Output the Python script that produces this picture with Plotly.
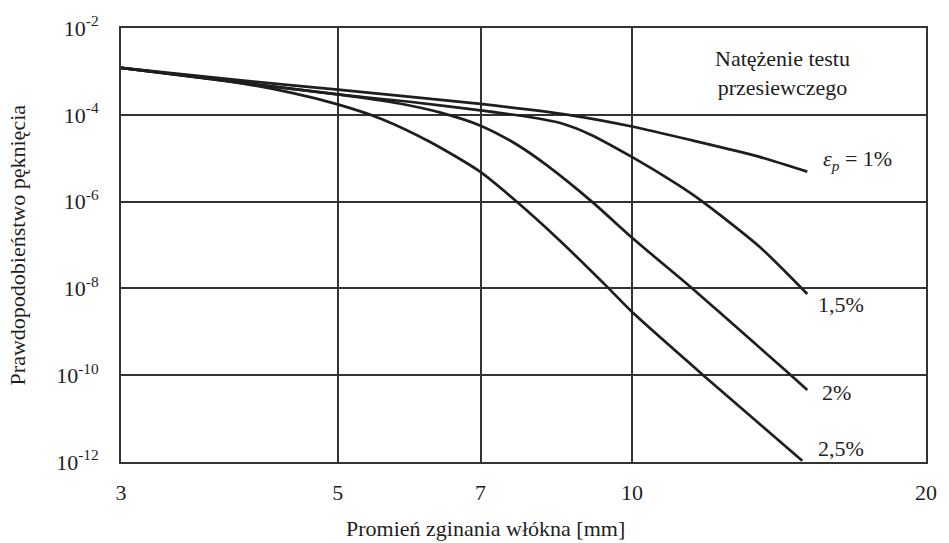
import plotly.graph_objects as go

# ---- data (x: bend radius [mm], values: log10 of failure probability) ----
x_1 = [3, 3.87, 5, 7, 8.61, 10.06, 11.53, 13.51, 15.12]
lg_1 = [-2.92, -3.18, -3.42, -3.75, -4.0, -4.28, -4.59, -4.97, -5.31]

x_15 = [3, 3.87, 5, 5.92, 7, 7.79, 8.48, 9.04, 10.0, 11.07, 11.81, 13.51, 15.12]
lg_15 = [-2.92, -3.22, -3.53, -3.70, -3.90, -4.04, -4.20, -4.44, -4.97, -5.57, -6.0, -7.04, -8.13]

x_2 = [3, 3.87, 5, 5.78, 6.37, 7, 7.63, 8.18, 9.10, 10.06, 11.53, 12.18, 14.51, 15.12]
lg_2 = [-2.92, -3.23, -3.53, -3.74, -3.95, -4.25, -4.69, -5.16, -6.0, -6.88, -8.0, -8.47, -9.98, -10.34]

x_25 = [3, 3.87, 4.50, 5, 5.55, 6.21, 6.98, 7.63, 8.43, 9.43, 10.0, 11.83, 14.94]
lg_25 = [-2.92, -3.23, -3.50, -3.76, -4.10, -4.62, -5.30, -6.01, -6.89, -7.96, -8.54, -10.0, -11.97]

x_ticks = [3, 5, 7, 10, 20]
y_exps = [-12, -10, -8, -6, -4, -2]

FONT = "Liberation Serif, Times New Roman, serif"
INK = "#1e1e1e"
GRID = "#333333"
FS = 22

W, H = 949, 543
L, R, T, B = 121, 12, 28, 81
PW, PH = W - L - R, H - T - B


def px(x):
    return (x - L) / PW


def py(y):
    return (H - B - y) / PH


fig = go.Figure()
for xs, lg in [(x_1, lg_1), (x_15, lg_15), (x_2, lg_2), (x_25, lg_25)]:
    fig.add_trace(go.Scatter(
        x=xs, y=[10 ** v for v in lg], mode="lines",
        line=dict(color=INK, width=2.7, shape="spline", smoothing=0.7),
        hoverinfo="skip", showlegend=False))

fig.update_layout(
    width=W, height=H, autosize=False,
    margin=dict(l=L, r=R, t=T, b=B, pad=0),
    paper_bgcolor="white", plot_bgcolor="white",
    font=dict(family=FONT, size=FS, color=INK),
    showlegend=False,
)
fig.update_xaxes(
    type="log", range=[0.47712, 1.30103],
    tickvals=x_ticks, ticktext=[str(v) for v in x_ticks],
    showgrid=True, gridcolor=GRID, gridwidth=1.6,
    showline=True, linecolor=GRID, linewidth=1.8, mirror=True,
    ticks="outside", ticklen=10, tickcolor="rgba(0,0,0,0)",
    tickfont=dict(family=FONT, size=FS, color=INK), zeroline=False,
)
fig.update_yaxes(
    type="log", range=[-12, -2],
    tickvals=[10.0 ** e for e in y_exps],
    ticktext=["10<sup>%d</sup>" % e for e in y_exps],
    showgrid=True, gridcolor=GRID, gridwidth=1.6,
    showline=True, linecolor=GRID, linewidth=1.8, mirror=True,
    ticks="outside", ticklen=16, tickcolor="rgba(0,0,0,0)",
    tickfont=dict(family=FONT, size=FS, color=INK), zeroline=False,
)

ann = [
    dict(text="Natężenie testu<br>przesiewczego", x=px(792), y=py(73),
         xanchor="center", yanchor="middle"),
    dict(text="<i>ε</i><sub><i>p</i></sub> = 1%", x=px(831), y=py(160),
         xanchor="left", yanchor="middle"),
    dict(text="1,5%", x=px(826), y=py(304), xanchor="left", yanchor="middle"),
    dict(text="2%", x=px(830), y=py(392), xanchor="left", yanchor="middle"),
    dict(text="2,5%", x=px(826), y=py(448), xanchor="left", yanchor="middle"),
    dict(text="Promień zginania włókna [mm]", x=px(490), y=py(528),
         xanchor="center", yanchor="middle"),
    dict(text="Prawdopodobieństwo pęknięcia", x=px(16.5), y=py(244.5),
         xanchor="center", yanchor="middle", textangle=-90),
]
for a in ann:
    fig.add_annotation(xref="paper", yref="paper", showarrow=False,
                       font=dict(family=FONT, size=FS, color=INK), **a)

fig.write_html("out.html")
